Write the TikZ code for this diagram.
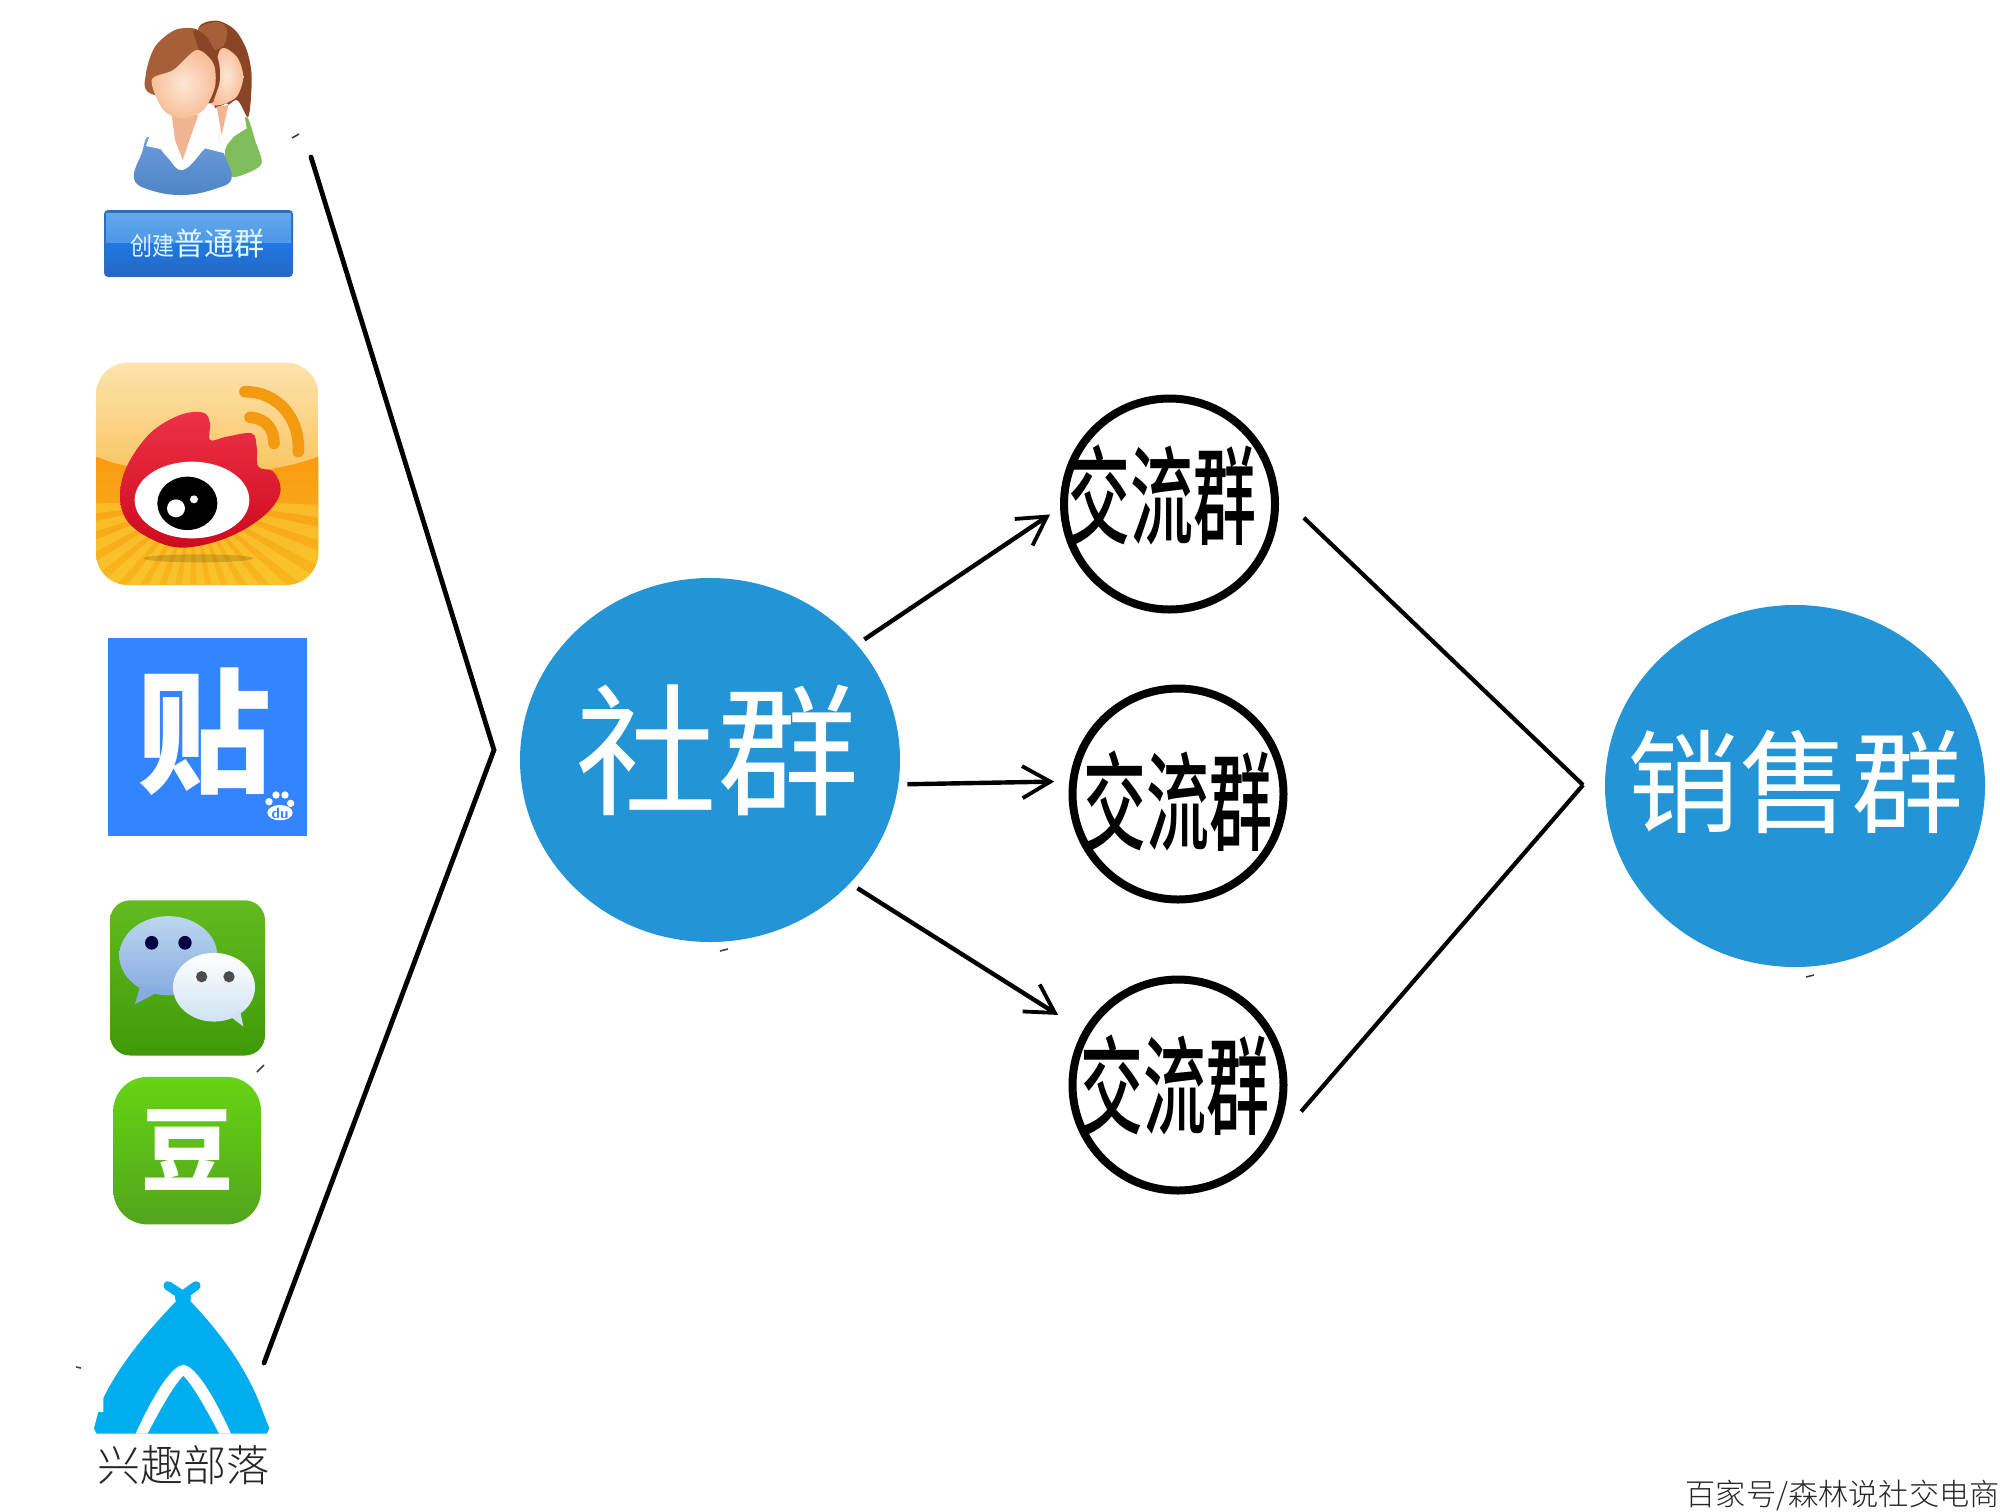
\documentclass[tikz,border=0pt]{standalone}
\usepackage{fontspec}
\usetikzlibrary{arrows.meta,shapes.geometric}
\newfontfamily\cjk{Noto Sans CJK SC}
\newfontfamily\cjklight{Noto Sans CJK SC Light}
\newfontfamily\cjkmed{Noto Sans CJK SC Medium}
\definecolor{bluec}{HTML}{2394D6}
\definecolor{tieba}{HTML}{3385FF}
\definecolor{tent}{HTML}{00ADEF}
\definecolor{hairc}{HTML}{A5603A}
\definecolor{haird}{HTML}{8A4526}
\definecolor{wbarc}{HTML}{F39A10}
\definecolor{skinl}{HTML}{FDE6D6}
\definecolor{skind}{HTML}{F8BE98}
\definecolor{neckc}{HTML}{F1B493}
\definecolor{shirtt}{HTML}{6F9FDC}
\definecolor{shirtb}{HTML}{4F84C6}
\definecolor{shirtg}{HTML}{7FBE5A}
\definecolor{btnedge}{HTML}{2A6FC0}
\definecolor{btna}{HTML}{62A8EC}
\definecolor{btnb}{HTML}{4D97E6}
\definecolor{btnc}{HTML}{1F78E2}
\definecolor{btnd}{HTML}{2568C2}
\definecolor{wba}{HTML}{FDE3AE}
\definecolor{wbb}{HTML}{F9C25A}
\definecolor{wbc}{HTML}{FB9A12}
\definecolor{wbd}{HTML}{F6B81E}
\definecolor{wbray}{HTML}{FBD03A}
\definecolor{wbred}{HTML}{EC3247}
\definecolor{wbredd}{HTML}{CE0A1E}
\definecolor{wxa}{HTML}{63BB20}
\definecolor{wxb}{HTML}{3F9A08}
\definecolor{bubt}{HTML}{BBD6EE}
\definecolor{bubb}{HTML}{86ABE2}
\definecolor{dba}{HTML}{66D414}
\definecolor{dbb}{HTML}{52A41C}
\tikzset{
  bigcirc/.style={ellipse,fill=bluec,inner sep=0pt,outer sep=4.5pt},
  ringc/.style={circle,draw=black,line width=4pt,fill=white,minimum size=105.5pt,inner sep=0pt,outer sep=7.2pt},
  arr/.style={line width=2.2pt,-{Straight Barb[length=14pt,width=16pt,line width=1.9pt]}},
  chev/.style={line width=2.4pt,line join=miter},
  bigtxt/.style={text=white,inner sep=0pt,font=\cjk},
  speck/.style={line width=0.8pt,draw=black!75}
}
\begin{document}
\begin{tikzpicture}[x=0.5pt,y=-0.5pt]
\useasboundingbox (0,0) rectangle (2000,1511);
\fill[white] (0,0) rectangle (2000,1511);

% ---- person icon + button
\begin{scope}[shift={(60,0)},x=0.16667pt,y=-0.16667pt]
  \fill[haird] plot[smooth cycle] coordinates {(415,85)(470,62)(525,90)(560,150)(575,230)(565,350)(530,300)(470,330)(430,200)};
  \fill[hairc] plot[smooth cycle] coordinates {(415,85)(470,65)(500,85)(495,130)(465,150)(430,130)};
  \shade[inner color=skinl,outer color=skind] plot[smooth cycle] coordinates {(480,150)(530,170)(550,230)(530,290)(480,315)(450,300)};
  \fill[shirtg] plot[smooth cycle] coordinates {(560,350)(585,420)(605,490)(560,520)(510,528)(495,450)(530,400)};
  \fill[white] (430,340) -- (500,310) -- (555,355) -- (560,385) -- (520,410) -- (490,440) -- (450,400) -- cycle;
  \fill[neckc] (470,320) -- (505,315) -- (485,405) -- cycle;
  % front
  \shade[top color=shirtt,bottom color=shirtb] plot[smooth cycle,tension=0.7] coordinates {(222,535)(245,460)(268,410)(320,470)(368,510)(430,450)(465,395)(495,470)(515,535)(470,565)(370,585)(270,570)};
  \fill[white] (272,398) -- (335,385) -- (345,440) -- (368,480) -- (368,510) -- (305,448) -- (258,438) -- cycle;
  \fill[white] (415,355) -- (450,345) -- (470,395) -- (495,460) -- (435,445) -- (368,510) -- (385,430) -- cycle;
  \fill[neckc] (335,345) -- (415,345) -- (385,430) -- (368,480) -- (345,420) -- cycle;
  \fill[hairc] plot[smooth cycle] coordinates {(258,220)(285,140)(345,90)(410,88)(450,140)(478,220)(465,290)(440,310)(270,280)};
  \fill[haird] plot[smooth cycle] coordinates {(400,90)(440,110)(475,180)(478,250)(450,310)(440,250)(420,160)};
  \shade[inner color=skinl,outer color=skind] plot[smooth cycle] coordinates {(275,240)(340,210)(410,150)(460,190)(465,260)(430,330)(370,355)(310,330)};
\end{scope}
\fill[btnedge,rounded corners=2pt] (104,210) rectangle (293,277);
\shade[top color=btna,bottom color=btnb] (106,213) rectangle (291,243);
\shade[top color=btnc,bottom color=btnd] (106,243) rectangle (291,275);
\node[inner sep=0pt,text=cyan!12!white,font=\cjk] (btn) at (197,244) {\scalebox{1}[1.15]{\fontsize{11pt}{11pt}\selectfont 创建}\scalebox{1}[1.05]{\fontsize{15pt}{15pt}\selectfont 普通群}};

% ---- weibo
\begin{scope}[shift={(70,340)},x=0.16667pt,y=-0.16667pt]
  \begin{scope}
    \clip[rounded corners=16pt] (78,68) rectangle (745,735);
    \shade[top color=wba,bottom color=wbb] (78,68) rectangle (745,430);
    \shade[top color=wbc,bottom color=wbd] (78,350) .. controls (250,420) and (560,420) .. (745,350) -- (745,735) -- (78,735) -- cycle;
    \foreach \a in {5,15,...,175}{
      \fill[wbray,opacity=0.5] (370,480) -- ({370+700*cos(\a-2.8)},{480+700*sin(\a-2.8)}) -- ({370+700*cos(\a+2.8)},{480+700*sin(\a+2.8)}) -- cycle;
    }
    \fill[black,opacity=0.15] (385,655) ellipse [x radius=165,y radius=12];
  \end{scope}
  \draw[wbarc,line width=5.8pt,line cap=round] (525,155) .. controls (620,155) and (690,230) .. (685,335);
  \draw[wbarc,line width=5.8pt,line cap=round] (540,232) .. controls (590,235) and (612,270) .. (612,310);
  \shade[top color=wbred,bottom color=wbredd] plot[smooth cycle,tension=0.6] coordinates {(150,470)(170,380)(240,280)(330,225)(400,218)(420,250)(420,300)(470,290)(545,280)(560,320)(565,380)(610,395)(632,450)(600,510)(520,570)(420,610)(320,622)(230,590)(170,540)};
  \fill[white] (366,480) ellipse [x radius=172,y radius=115];
  \fill[black] (352,490) ellipse [x radius=90,y radius=80];
  \fill[white] (318,505) circle [radius=27];
  \fill[white] (372,478) circle [radius=12];
\end{scope}

% ---- tieba
\fill[tieba] (108,638) rectangle (307,836);
\node[inner sep=0pt,text=white,font=\cjk\bfseries\fontsize{67pt}{67pt}\selectfont] (tb) at (204,732) {贴};
\begin{scope}[shift={(70,340)},x=0.16667pt,y=-0.16667pt]
  \fill[white] (597,1385) circle [radius=11];
  \fill[white] (618,1365) circle [radius=11];
  \fill[white] (645,1365) circle [radius=11];
  \fill[white] (662,1390) circle [radius=11];
  \fill[white] (630,1418) ellipse [x radius=38,y radius=23];
  \node[inner sep=0pt,text=tieba,font=\sffamily\bfseries\fontsize{7.5pt}{7.5pt}\selectfont] (du) at (630,1419) {du};
\end{scope}

% ---- wechat, douban, tent
\begin{scope}[shift={(70,885)},x=0.16667pt,y=-0.202pt]
  \shade[top color=wxa,bottom color=wxb,rounded corners=10pt] (120,38) rectangle (585,422);
  \shade[top color=bubt,bottom color=bubb] (295,175) ellipse [x radius=147,y radius=98];
  \fill[bubb] (210,250) -- (195,295) -- (270,262) -- cycle;
  \fill[black!75!blue] (245,143) ellipse [x radius=20,y radius=17];
  \fill[black!75!blue] (345,143) ellipse [x radius=20,y radius=17];
  \shade[top color=white,bottom color=bubt!70!white] (432,253) ellipse [x radius=123,y radius=85];
  \fill[bubt!70!white] (480,325) -- (520,350) -- (510,310) -- cycle;
  \fill[black!70] (395,227) ellipse [x radius=17,y radius=14];
  \fill[black!70] (477,227) ellipse [x radius=17,y radius=14];

  \shade[top color=dba,bottom color=dbb,rounded corners=17pt] (130,475) rectangle (573,840);
  \node[inner sep=0pt,text=white,font=\cjk\bfseries\fontsize{46pt}{46pt}\selectfont] (db) at (352,655) {豆};

  \fill[tent] (340,1012) .. controls (240,1095) and (150,1185) .. (100,1270) -- (100,1305) -- (85,1305) -- (72,1345) -- (80,1358) -- (590,1358) -- (598,1345) -- (565,1275) .. controls (520,1185) and (440,1095) .. (340,1012) -- cycle;
  \fill[white] (197,1358) .. controls (240,1280) and (300,1190) .. (340,1188) .. controls (380,1190) and (440,1280) .. (483,1358) -- cycle;
  \fill[tent] (233,1358) .. controls (270,1300) and (310,1240) .. (340,1215) .. controls (370,1240) and (410,1300) .. (447,1358) -- cycle;
  \draw[tent,line width=4.6pt,line cap=round] (294,992) -- (350,1022);
  \draw[tent,line width=4.6pt,line cap=round] (378,992) -- (328,1022);
  \node[inner sep=0pt,text=black!85,font=\cjklight\fontsize{21.5pt}{21.5pt}\selectfont] (xq) at (340,1435) {兴趣部落};
\end{scope}

% ---- main nodes
\node[bigcirc,minimum width=190pt,minimum height=182pt] (she) at (710,760) {};
\node[bigtxt,font=\cjk\fontsize{71pt}{71pt}\selectfont] (shet) at (717,750) {社群};
\node[bigcirc,minimum width=190pt,minimum height=181pt] (sal) at (1795,786) {};
\node[bigtxt,font=\cjk\fontsize{56pt}{56pt}\selectfont] (salt) at (1795,782) {销售群};
\node[ringc] (jl1) at (1169.5,504) {};
\node[ringc] (jl2) at (1178,794) {};
\node[ringc] (jl3) at (1178,1085) {};
\node[inner sep=0pt,font=\cjkmed\fontsize{31.5pt}{31.5pt}\selectfont] (jt1) at (1162,495) {\scalebox{1}[1.7]{交流群}};
\node[inner sep=0pt,font=\cjkmed\fontsize{31.5pt}{31.5pt}\selectfont] (jt2) at (1178,801) {\scalebox{1}[1.7]{交流群}};
\node[inner sep=0pt,font=\cjkmed\fontsize{31.5pt}{31.5pt}\selectfont] (jt3) at (1175,1085) {\scalebox{1}[1.7]{交流群}};

% ---- connectors
\draw[arr] (she.38.4) -- (jl1.185.3);
\draw[arr,shorten >=2.3pt] (she.-7.3) -- (jl2.174.5);
\draw[arr,shorten >=9.5pt] (she.-41.9) -- (jl3.150);
\coordinate (apex) at (1583,785);
\draw[chev,line width=2.1pt,shorten <=10pt] (jl1.0.4) -- (apex);
\draw[chev,line width=2.1pt,shorten <=7pt] (jl3.-18.7) -- (apex);
\coordinate (cs) at (311,157);
\coordinate (ca) at (494,750);
\coordinate (ce) at (264,1363);
\draw[chev,line cap=round] (cs) -- (ca) -- (ce);

% ---- stray specks of the picture
\draw[speck] (292,138) -- (299,134);
\draw[speck] (257,1072) -- (264,1065);
\draw[speck] (76,1367) -- (81,1368);
\draw[speck] (720,951) -- (728,949);
\draw[speck] (1806,977) -- (1814,975);

% ---- footer
\node[anchor=east,inner sep=0pt,text=black!85,font=\cjklight\fontsize{15.1pt}{15.1pt}\selectfont] (ft) at (2000,1495) {百家号/森林说社交电商};
\end{tikzpicture}
\end{document}
